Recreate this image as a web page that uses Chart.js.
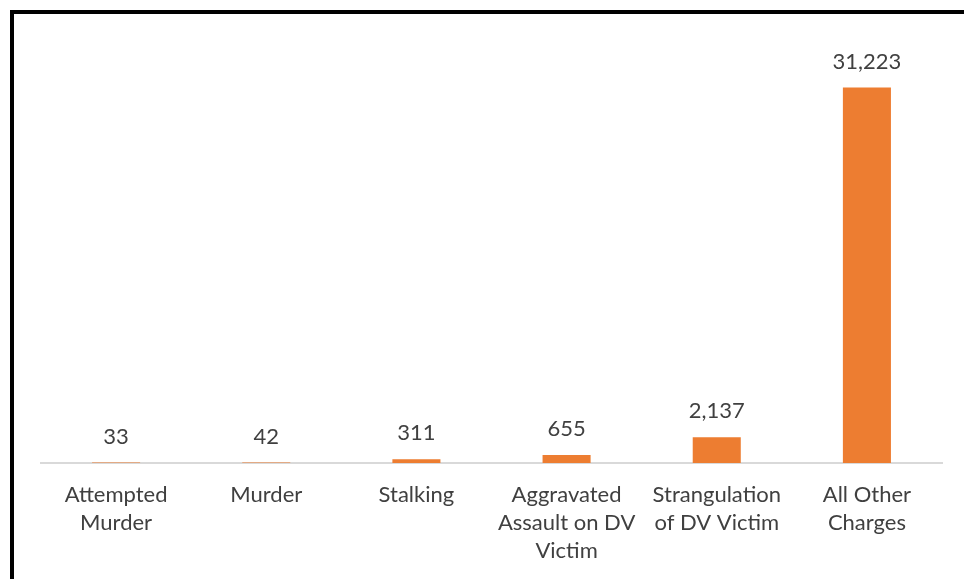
<!DOCTYPE html>
<html>
<head>
<meta charset="utf-8">
<script src="https://cdn.jsdelivr.net/npm/chart.js@4/dist/chart.umd.min.js"></script>
<style>
  html, body { margin: 0; padding: 0; background: #fff; }
  #wrap { position: relative; width: 964px; height: 579px; }
  #frame { position: absolute; left: 10px; top: 10px; right: 0; bottom: 0;
           border-left: 4px solid #000; border-top: 4px solid #000; pointer-events: none; }
  canvas { position: absolute; left: 0; top: 0; }
</style>
</head>
<body>
<div id="wrap">
  <canvas id="c" width="964" height="579"></canvas>
  <div id="frame"></div>
</div>
<script>
// chart data
var categories = [
  ['Attempted', 'Murder'],
  'Murder',
  'Stalking',
  ['Aggravated', 'Assault on DV', 'Victim'],
  ['Strangulation', 'of DV Victim'],
  ['All Other', 'Charges']
];
var charges = [33, 42, 311, 655, 2137, 31223];

var textColor = '#404040';
var fontFamily = 'Lato, "Open Sans", sans-serif';

// simple value labels above each bar
var valueLabels = {
  id: 'valueLabels',
  afterDatasetsDraw: function(chart) {
    var ctx = chart.ctx;
    var meta = chart.getDatasetMeta(0);
    ctx.save();
    ctx.font = '22px ' + fontFamily;
    ctx.fillStyle = textColor;
    ctx.textAlign = 'center';
    ctx.textBaseline = 'middle';
    meta.data.forEach(function(bar, i) {
      var v = chart.data.datasets[0].data[i];
      ctx.fillText(v.toLocaleString('en-US'), bar.x, bar.y - 26);
    });
    ctx.restore();
  }
};

new Chart(document.getElementById('c').getContext('2d'), {
  type: 'bar',
  data: {
    labels: categories,
    datasets: [{
      data: charges,
      backgroundColor: '#ED7D31',
      borderWidth: 0,
      barPercentage: 0.32,
      categoryPercentage: 1
    }]
  },
  options: {
    responsive: false,
    animation: false,
    layout: { padding: { left: 41, right: 22, top: 42, bottom: 0 } },
    plugins: { legend: { display: false }, tooltip: { enabled: false } },
    scales: {
      y: { display: false, min: 0, max: 35000 },
      x: {
        grid: { display: false, drawTicks: false },
        border: { display: true, color: '#d9d9d9', width: 2 },
        ticks: {
          color: textColor,
          padding: 18,
          maxRotation: 0,
          autoSkip: false,
          font: { family: fontFamily, size: 22, lineHeight: 1.27 }
        },
        afterFit: function(s) { s.height = 116; }
      }
    }
  },
  plugins: [valueLabels]
});
</script>
</body>
</html>
